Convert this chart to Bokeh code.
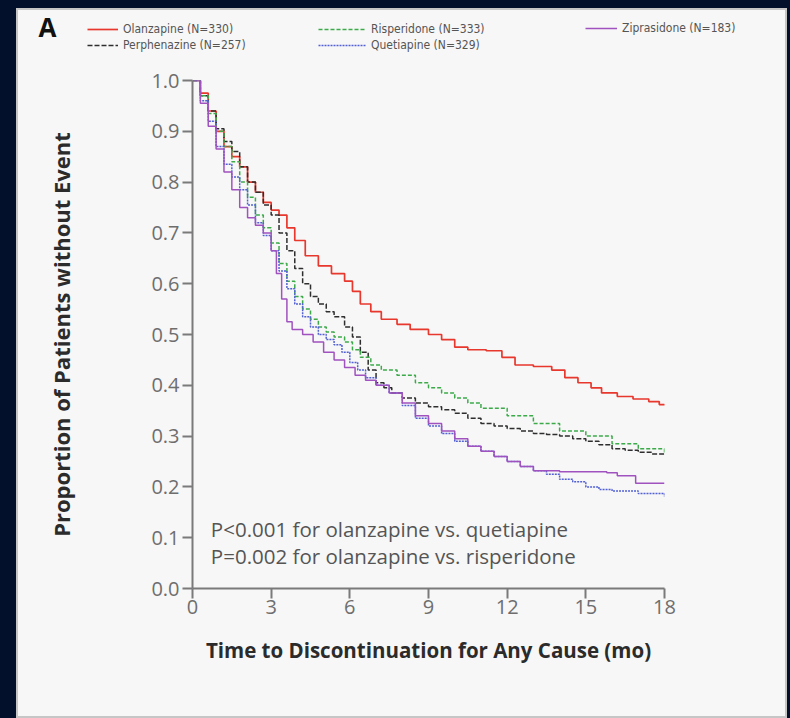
from bokeh.plotting import figure
from bokeh.layouts import column
from bokeh.models import Range1d, Legend, LegendItem, Label, FixedTicker, PrintfTickFormatter
from bokeh.embed import file_html
from bokeh.resources import INLINE

# ---- data ----
x_ticks = [0, 3, 6, 9, 12, 15, 18]
y_ticks = [0.0, 0.1, 0.2, 0.3, 0.4, 0.5, 0.6, 0.7, 0.8, 0.9, 1.0]

olanzapine_t = [0, 0.3, 0.6, 0.9, 1.2, 1.5, 1.8, 2.1, 2.4, 2.7, 3.0, 3.3, 3.6, 3.9, 4.3, 4.8, 5.3, 5.8, 6.1, 6.4,
                6.8, 7.2, 7.8, 8.3, 9.0, 9.5, 10.0, 10.5, 11.2, 11.8, 12.3, 13.0, 13.7, 14.2, 14.7, 15.2, 15.6,
                16.2, 16.8, 17.4, 17.8, 18.0]
olanzapine_s = [1.0, 0.975, 0.94, 0.90, 0.87, 0.85, 0.83, 0.80, 0.78, 0.76, 0.745, 0.735, 0.71, 0.685, 0.655,
                0.635, 0.62, 0.605, 0.585, 0.56, 0.545, 0.53, 0.52, 0.51, 0.50, 0.49, 0.475, 0.47, 0.468, 0.455,
                0.44, 0.437, 0.43, 0.415, 0.405, 0.395, 0.385, 0.378, 0.373, 0.368, 0.362, 0.36]

perphenazine_t = [0, 0.3, 0.6, 0.9, 1.2, 1.5, 1.8, 2.1, 2.4, 2.7, 3.0, 3.3, 3.6, 3.9, 4.2, 4.5, 4.8, 5.1, 5.4,
                  5.8, 6.1, 6.4, 6.7, 7.0, 7.3, 7.6, 8.0, 8.5, 9.0, 9.5, 10.0, 10.5, 11.0, 11.5, 12.0, 12.5,
                  13.0, 13.5, 14.0, 14.5, 15.0, 15.5, 16.0, 16.5, 17.0, 17.5, 18.0]
perphenazine_s = [1.0, 0.97, 0.94, 0.905, 0.88, 0.86, 0.83, 0.80, 0.78, 0.755, 0.735, 0.70, 0.665, 0.63, 0.60,
                  0.575, 0.56, 0.545, 0.535, 0.515, 0.495, 0.465, 0.43, 0.405, 0.395, 0.385, 0.375, 0.365, 0.358,
                  0.352, 0.345, 0.335, 0.325, 0.32, 0.315, 0.31, 0.305, 0.303, 0.30, 0.295, 0.29, 0.283, 0.275,
                  0.272, 0.268, 0.265, 0.262]

risperidone_t = [0, 0.3, 0.6, 0.9, 1.2, 1.5, 1.8, 2.1, 2.4, 2.7, 3.0, 3.3, 3.6, 3.9, 4.2, 4.5, 4.8, 5.1, 5.4,
                 5.8, 6.1, 6.4, 6.8, 7.2, 7.8, 8.5, 9.0, 9.5, 10.0, 10.5, 11.0, 12.0, 13.0, 14.0, 15.0, 16.0,
                 17.0, 18.0]
risperidone_s = [1.0, 0.97, 0.935, 0.90, 0.87, 0.84, 0.80, 0.77, 0.735, 0.71, 0.68, 0.64, 0.605, 0.575, 0.55,
                 0.53, 0.515, 0.505, 0.495, 0.485, 0.47, 0.455, 0.44, 0.43, 0.42, 0.405, 0.395, 0.385, 0.375,
                 0.365, 0.355, 0.34, 0.325, 0.31, 0.30, 0.285, 0.275, 0.265]

quetiapine_t = [0, 0.3, 0.6, 0.9, 1.2, 1.5, 1.8, 2.1, 2.4, 2.7, 3.0, 3.3, 3.6, 3.9, 4.2, 4.5, 4.8, 5.1, 5.4,
                5.7, 6.0, 6.3, 6.6, 7.0, 7.5, 8.0, 8.5, 9.0, 9.5, 10.0, 10.5, 11.0, 11.5, 12.0, 12.5, 13.0,
                13.5, 14.0, 14.5, 15.0, 15.5, 16.0, 17.0, 18.0]
quetiapine_s = [1.0, 0.96, 0.92, 0.87, 0.835, 0.81, 0.785, 0.755, 0.72, 0.695, 0.665, 0.625, 0.59, 0.56, 0.535,
                0.515, 0.50, 0.49, 0.48, 0.465, 0.445, 0.43, 0.415, 0.40, 0.385, 0.36, 0.335, 0.32, 0.305, 0.29,
                0.28, 0.27, 0.26, 0.25, 0.24, 0.232, 0.225, 0.215, 0.21, 0.20, 0.195, 0.192, 0.187, 0.18]

ziprasidone_t = [0, 0.3, 0.6, 0.9, 1.2, 1.5, 1.8, 2.1, 2.4, 2.7, 3.0, 3.2, 3.4, 3.6, 3.8, 4.2, 4.6, 5.0, 5.4,
                 5.8, 6.2, 6.6, 7.0, 7.5, 8.0, 8.5, 9.0, 9.5, 10.0, 10.5, 11.0, 11.5, 12.0, 12.5, 13.0, 14.0,
                 15.8, 16.2, 16.9, 18.0]
ziprasidone_s = [1.0, 0.955, 0.91, 0.865, 0.82, 0.785, 0.75, 0.73, 0.715, 0.70, 0.665, 0.62, 0.57, 0.525, 0.51,
                 0.50, 0.485, 0.465, 0.45, 0.435, 0.42, 0.41, 0.40, 0.385, 0.365, 0.34, 0.325, 0.31, 0.295, 0.28,
                 0.27, 0.26, 0.25, 0.24, 0.232, 0.23, 0.228, 0.222, 0.207, 0.207]

labels = ["Olanzapine (N=330)", "Perphenazine (N=257)", "Risperidone (N=333)",
          "Quetiapine (N=329)", "Ziprasidone (N=183)"]
annotation_lines = ["P<0.001 for olanzapine vs. quetiapine",
                    "P=0.002 for olanzapine vs. risperidone"]

NAVY = "#03102b"
PANEL = "#f7f7f7"
AXIS = "#7a7a7a"

styles = [
    dict(line_color="#e8372c", line_width=1.7),
    dict(line_color="#2e2e2e", line_width=1.5, line_dash="5 2"),
    dict(line_color="#3daa4a", line_width=1.5, line_dash="4 2"),
    dict(line_color="#5260d4", line_width=1.5, line_dash="2 1"),
    dict(line_color="#a052bf", line_width=1.5),
]

# ---------------- main chart ----------------
p = figure(width=771, height=650, output_backend="svg", toolbar_location=None,
           x_range=Range1d(0, 18), y_range=Range1d(0, 1.0),
           min_border_left=176, min_border_right=123, min_border_top=12, min_border_bottom=130,
           background_fill_color=None, border_fill_color=None, outline_line_color=None)
p.grid.visible = False

for ax in (p.xaxis[0], p.yaxis[0]):
    ax.axis_line_color = AXIS
    ax.axis_line_width = 2
    ax.major_tick_line_color = AXIS
    ax.major_tick_line_width = 2
    ax.major_tick_out = 10
    ax.major_tick_in = 0
    ax.minor_tick_line_color = None
    ax.major_label_text_font = "Open Sans"
    ax.major_label_text_font_size = "20px"
    ax.major_label_text_color = "#6e6e6e"
    ax.axis_label_text_font = "Open Sans"
    ax.axis_label_text_font_style = "bold"
    ax.axis_label_text_color = "#2b2b2b"

p.xaxis.axis_label_text_font_size = "20.5px"
p.yaxis.axis_label_text_font_size = "22px"
p.xaxis.ticker = FixedTicker(ticks=x_ticks)
p.yaxis.ticker = FixedTicker(ticks=y_ticks)
p.yaxis.formatter = PrintfTickFormatter(format="%.1f")
p.xaxis.axis_label = "Time to Discontinuation for Any Cause (mo)"
p.yaxis.axis_label = "Proportion of Patients without Event"
p.xaxis.major_label_standoff = 1
p.yaxis.major_label_standoff = 3
p.xaxis.axis_label_standoff = 19
p.yaxis.axis_label_standoff = 72

series = [(olanzapine_t, olanzapine_s), (perphenazine_t, perphenazine_s), (risperidone_t, risperidone_s),
          (quetiapine_t, quetiapine_s), (ziprasidone_t, ziprasidone_s)]
for (t, s), st in zip(series, styles):
    p.step(t, s, mode="after", **st)

for i, line in enumerate(annotation_lines):
    p.add_layout(Label(x=0.7, y=[0.118, 0.063][i], text=line, text_baseline="middle",
                       text_font="Open Sans", text_font_size="20.5px", text_color="#555555"))

# ---------------- header strip: panel letter and legend ----------------
top = figure(width=771, height=60, output_backend="svg", toolbar_location=None,
             x_range=Range1d(0, 1), y_range=Range1d(0, 1), x_axis_type=None, y_axis_type=None,
             min_border=0, min_border_left=0, min_border_right=0, min_border_top=0, min_border_bottom=0,
             background_fill_color=None, border_fill_color=None, outline_line_color=None)
if "frame_align" in top.properties():
    top.frame_align = False
top.grid.visible = False
# legend-key renderers (a single missing value each, nothing plotted)
nan = float("nan")
key = [top.line([nan], [nan], **st) for st in styles]


def make_legend(idx, loc, gw):
    lg = Legend(items=[LegendItem(label=labels[i], renderers=[key[i]]) for i in idx], location=loc)
    lg.label_text_font = "Liberation Sans Narrow, DejaVu Sans Condensed"
    lg.label_text_font_size = "12px"
    lg.label_text_color = "#555555"
    lg.glyph_width = gw
    lg.glyph_height = 12
    lg.label_height = 12
    lg.label_standoff = 5
    lg.spacing = 2
    lg.padding = 0
    lg.margin = 0
    lg.border_line_color = None
    lg.background_fill_alpha = 0
    top.add_layout(lg, "center")


make_legend([0, 1], (71, 16), 31)
make_legend([2, 3], (302, 16), 48)
make_legend([4], (569, 33), 32)

top.add_layout(Label(x=22, y=24, x_units="screen", y_units="screen", text="A",
                     text_font="Open Sans", text_font_size="26px", text_font_style="bold",
                     text_color="#111111"))

layout = column(top, p, spacing=0)

html = file_html(layout, INLINE, title="Time to discontinuation")
body_style = ("margin:0; background-color:%s; border-left:16px solid %s; border-top:8px solid %s; "
              "border-right:3px solid %s; box-shadow: inset 0 0 0 2px #c6c6c6; overflow:hidden;"
              % (PANEL, NAVY, NAVY, NAVY))
html = html.replace("<body>", '<body style="%s">' % body_style)
open("out.html", "w").write(html)
